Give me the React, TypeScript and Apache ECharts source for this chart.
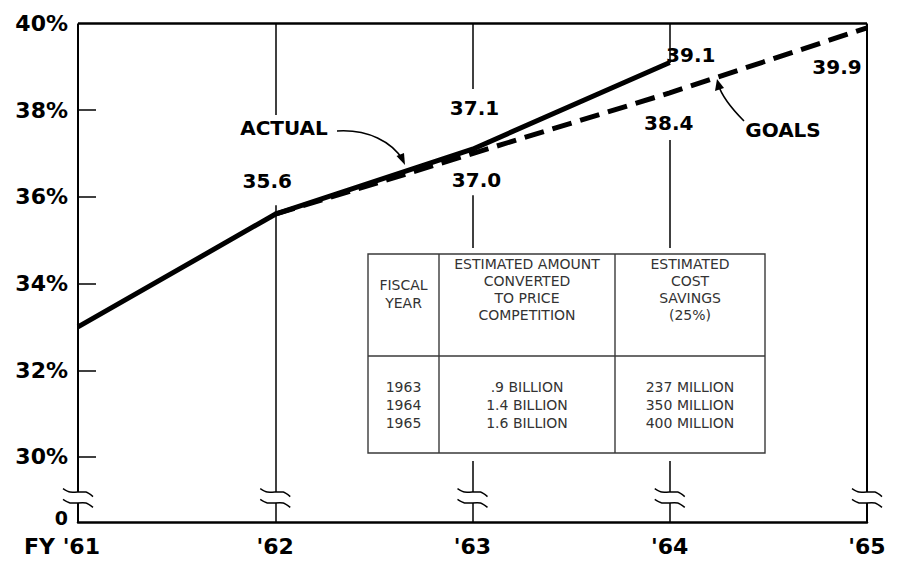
import React, { useEffect, useRef } from "react";
import * as echarts from "echarts";

// ---- data ----
const years = [61, 62, 63, 64, 65];
const yearLabels = ["FY '61", "'62", "'63", "'64", "'65"];
const actualYears = [61, 62, 63, 64];
const actualValues = [33.0, 35.6, 37.1, 39.1];
const goalYears = [62, 63, 64, 65];
const goalValues = [35.6, 37.0, 38.4, 39.9];
const yLabelValues = [28.5, 30, 32, 34, 36, 38, 40];
const yTickValues = [30, 32, 34, 36, 38];
const yLabelTexts = ["0", "30%", "32%", "34%", "36%", "38%", "40%"];

const tableHeadYear = ["FISCAL", "YEAR"];
const tableHeadConverted = ["ESTIMATED AMOUNT", "CONVERTED", "TO PRICE", "COMPETITION"];
const tableHeadSavings = ["ESTIMATED", "COST", "SAVINGS", "(25%)"];
const tableYears = ["1963", "1964", "1965"];
const tableConverted = [".9 BILLION", "1.4 BILLION", "1.6 BILLION"];
const tableSavings = ["237 MILLION", "350 MILLION", "400 MILLION"];

// ---- styling / layout constants ----
const Y_MIN = 28.5;
const Y_MAX = 40;
const BREAK_TOP = 29.19;
const BREAK_BOTTOM = 28.94;
const FONT = '"DejaVu Sans", "Liberation Sans", sans-serif';

// which labels show and their offsets from the point (px)
const actualLabelShow = [false, true, true, true];
const actualLabelOffset = [[0, 0], [-8, -33], [2, -41], [21, -8]];
const goalLabelShow = [false, true, true, true];
const goalLabelOffset = [[0, 0], [4, 26], [-1, 30], [-30, 39]];

// visible runs (in axis values) of each vertical rule
const verticalRuns: Record<number, [number, number][]> = {
  61: [[Y_MAX, BREAK_TOP], [BREAK_BOTTOM, Y_MIN]],
  62: [[Y_MAX, 37.89], [35.81, BREAK_TOP], [BREAK_BOTTOM, Y_MIN]],
  63: [[Y_MAX, 38.49], [36.04, 34.82], [29.91, BREAK_TOP], [BREAK_BOTTOM, Y_MIN]],
  64: [[Y_MAX, 39.09], [37.31, 34.82], [29.91, BREAK_TOP], [BREAK_BOTTOM, Y_MIN]],
  65: [[Y_MAX, BREAK_TOP], [BREAK_BOTTOM, Y_MIN]],
};

function buildOption(): any {
  const markData: any[] = [];
  years.forEach((yr) => {
    const w = yr === 61 || yr === 65 ? 2 : 1.5;
    verticalRuns[yr].forEach(([a, b]) => {
      markData.push([
        { coord: [yr, a], lineStyle: { width: w, color: "#000", type: "solid" } },
        { coord: [yr, b] },
      ]);
    });
  });
  markData.push([
    { coord: [years[0], Y_MAX], lineStyle: { width: 2.5, color: "#000", type: "solid" } },
    { coord: [years[years.length - 1], Y_MAX] },
  ]);

  const labelStyle = {
    fontFamily: FONT,
    fontWeight: "bold",
    fontSize: 20,
    color: "#000",
  };

  return {
    animation: false,
    backgroundColor: "#fff",
    grid: { left: 78, right: 36, top: 23.5, bottom: 39, containLabel: false },
    xAxis: {
      type: "value",
      min: 61,
      max: 65,
      interval: 1,
      axisLine: { show: true, onZero: false, lineStyle: { color: "#000", width: 2.5 } },
      axisTick: { show: false },
      splitLine: { show: false },
      axisLabel: {
        margin: 13,
        color: "#000",
        fontFamily: FONT,
        fontWeight: "bold",
        fontSize: 22,
        formatter: (v: number) => {
          const i = years.indexOf(Math.round(v));
          if (i === 0) return "{fy|" + yearLabels[0] + "}";
          return i >= 0 ? yearLabels[i] : "";
        },
        rich: {
          fy: {
            fontFamily: FONT,
            fontWeight: "bold",
            fontSize: 22,
            color: "#000",
            padding: [0, 32, 0, 0],
          },
        },
      },
    },
    yAxis: {
      type: "value",
      min: Y_MIN,
      max: Y_MAX,
      axisLine: { show: false },
      splitLine: { show: false },
      axisTick: {
        show: true,
        inside: true,
        length: 18,
        customValues: yTickValues,
        lineStyle: { color: "#000", width: 1.5 },
      },
      axisLabel: {
        customValues: yLabelValues,
        margin: 10,
        color: "#000",
        fontFamily: FONT,
        fontWeight: "bold",
        fontSize: 22,
        formatter: (v: number) => {
          const i = yLabelValues.findIndex((t) => Math.abs(t - v) < 1e-6);
          if (i === 0) return "{z|" + yLabelTexts[0] + "}";
          return i >= 0 ? yLabelTexts[i] : "";
        },
        rich: {
          z: {
            fontFamily: FONT,
            fontWeight: "bold",
            fontSize: 19,
            color: "#000",
            padding: [0, 0, 8, 0],
          },
        },
      },
    },
    series: [
      {
        name: "ACTUAL",
        type: "line",
        data: actualYears.map((x, i) => ({
          value: [x, actualValues[i]],
          label: {
            show: actualLabelShow[i],
            position: "inside",
            offset: actualLabelOffset[i],
          },
        })),
        showSymbol: true,
        symbol: "circle",
        symbolSize: 1,
        itemStyle: { color: "#000" },
        lineStyle: { color: "#000", width: 5 },
        label: {
          ...labelStyle,
          formatter: (p: any) => Number(p.value[1]).toFixed(1),
        },
        z: 3,
        markLine: {
          silent: true,
          symbol: ["none", "none"],
          label: { show: false },
          lineStyle: { color: "#000", width: 1.5, type: "solid" },
          data: markData,
          z: 1,
        },
      },
      {
        name: "GOALS",
        type: "line",
        data: goalYears.map((x, i) => ({
          value: [x, goalValues[i]],
          label: {
            show: goalLabelShow[i],
            position: "inside",
            offset: goalLabelOffset[i],
          },
        })),
        showSymbol: true,
        symbol: "circle",
        symbolSize: 1,
        itemStyle: { color: "#000" },
        lineStyle: { color: "#000", width: 5, type: [20, 9] },
        label: {
          ...labelStyle,
          formatter: (p: any) => Number(p.value[1]).toFixed(1),
        },
        z: 3,
      },
    ],
  };
}

function tableGraphics(): any[] {
  const L = 368, R = 765, T = 254, M = 356, B = 453;
  const c1 = 439, c2 = 615;
  const cx = [(L + c1) / 2, (c1 + c2) / 2, (c2 + R) / 2];
  const stroke = "#3a3a3a";
  const txt = (text: string, x: number, y: number) => ({
    type: "text",
    x,
    y,
    z: 20,
    style: {
      text,
      fill: "#333",
      fontFamily: FONT,
      fontSize: 14,
      align: "center",
      verticalAlign: "middle",
    },
  });
  const els: any[] = [
    {
      type: "rect",
      z: 15,
      shape: { x: L, y: T, width: R - L, height: B - T },
      style: { fill: "#fff", stroke, lineWidth: 1.4 },
    },
    { type: "line", z: 16, shape: { x1: L, y1: M, x2: R, y2: M }, style: { stroke, lineWidth: 1.4 } },
    { type: "line", z: 16, shape: { x1: c1, y1: T, x2: c1, y2: B }, style: { stroke, lineWidth: 1.4 } },
    { type: "line", z: 16, shape: { x1: c2, y1: T, x2: c2, y2: B }, style: { stroke, lineWidth: 1.4 } },
  ];
  const headY4 = [264, 281, 298, 315];
  const headY2 = [285, 303];
  tableHeadYear.forEach((t, i) => els.push(txt(t, cx[0], headY2[i])));
  tableHeadConverted.forEach((t, i) => els.push(txt(t, cx[1], headY4[i])));
  tableHeadSavings.forEach((t, i) => els.push(txt(t, cx[2], headY4[i])));
  const rowY = [387, 405, 423];
  tableYears.forEach((t, i) => els.push(txt(t, cx[0], rowY[i])));
  tableConverted.forEach((t, i) => els.push(txt(t, cx[1], rowY[i])));
  tableSavings.forEach((t, i) => els.push(txt(t, cx[2], rowY[i])));
  return els;
}

function annotationGraphics(): any[] {
  const bold = (text: string, x: number, y: number) => ({
    type: "text",
    x,
    y,
    z: 20,
    style: {
      text,
      fill: "#000",
      fontFamily: FONT,
      fontWeight: "bold",
      fontSize: 20,
      align: "center",
      verticalAlign: "middle",
    },
  });
  return [
    bold("ACTUAL", 284, 128),
    {
      type: "bezierCurve",
      z: 20,
      shape: { x1: 337, y1: 131, cpx1: 368, cpy1: 129, cpx2: 392, cpy2: 142, x2: 403, y2: 160 },
      style: { stroke: "#000", lineWidth: 1.6, fill: null },
    },
    {
      type: "polygon",
      z: 20,
      shape: { points: [[405, 165], [396.5, 156], [404, 153]] },
      style: { fill: "#000" },
    },
    bold("GOALS", 783, 130),
    {
      type: "bezierCurve",
      z: 20,
      shape: { x1: 744, y1: 121, cpx1: 733, cpy1: 110, cpx2: 722, cpy2: 97, x2: 718, y2: 84 },
      style: { stroke: "#000", lineWidth: 1.6, fill: null },
    },
    {
      type: "polygon",
      z: 20,
      shape: { points: [[717, 79], [715, 91], [724, 88]] },
      style: { fill: "#000" },
    },
  ];
}

function breakGraphics(chart: any): any[] {
  const els: any[] = [];
  years.forEach((yr) => {
    const [x, yT] = chart.convertToPixel({ gridIndex: 0 }, [yr, BREAK_TOP]);
    const yB = chart.convertToPixel({ gridIndex: 0 }, [yr, BREAK_BOTTOM])[1];
    [yT, yB].forEach((y) => {
      els.push({
        type: "polyline",
        z: 20,
        shape: {
          points: [[x - 15, y - 3.5], [x - 8, y], [x + 8, y], [x + 15, y + 4.5]],
          smooth: 0.25,
        },
        style: { stroke: "#000", lineWidth: 1.5, fill: null },
      });
    });
  });
  return els;
}

export default function App() {
  const ref = useRef<HTMLDivElement>(null);
  useEffect(() => {
    document.body.style.margin = "0";
    if (!ref.current) return;
    const chart = echarts.init(ref.current, null, { renderer: "svg" });
    chart.setOption(buildOption());
    chart.setOption({
      graphic: [...tableGraphics(), ...annotationGraphics(), ...breakGraphics(chart)],
    });
    return () => chart.dispose();
  }, []);
  return (
    <div
      ref={ref}
      style={{ width: 903, height: 561, position: "fixed", left: 0, top: 0, background: "#fff" }}
    />
  );
}
